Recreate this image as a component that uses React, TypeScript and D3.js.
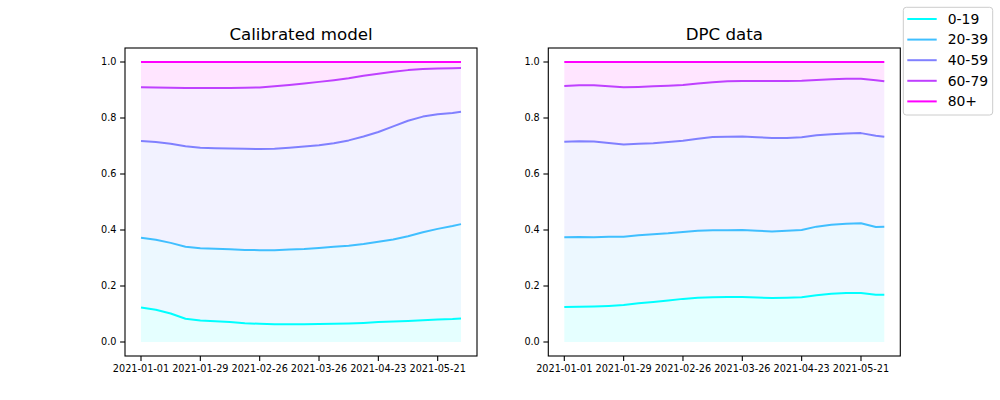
import React from "react";
import * as d3 from "d3";

const groups = ["0-19", "20-39", "40-59", "60-79", "80+"];
const colors = ["#00ffff", "#40bfff", "#8080ff", "#bf40ff", "#ff00ff"];
const sampleDays = [0, 7, 14, 21, 28, 35, 42, 49, 56, 63, 70, 77, 84, 91, 98, 105, 112, 119, 126, 133, 140, 147, 151];
const tickLabels = ["2021-01-01", "2021-01-29", "2021-02-26", "2021-03-26", "2021-04-23", "2021-05-21"];
const yTicks = [0, 0.2, 0.4, 0.6, 0.8, 1.0];

// cumulative shares, model
const model019 = [0.123, 0.115, 0.102, 0.083, 0.077, 0.074, 0.071, 0.067, 0.065, 0.063, 0.063, 0.063, 0.064, 0.065, 0.066, 0.068, 0.071, 0.073, 0.075, 0.078, 0.080, 0.082, 0.084];
const model2039 = [0.372, 0.365, 0.354, 0.340, 0.335, 0.333, 0.331, 0.329, 0.328, 0.328, 0.330, 0.332, 0.336, 0.340, 0.344, 0.350, 0.358, 0.366, 0.378, 0.392, 0.404, 0.414, 0.421];
const model4059 = [0.718, 0.714, 0.708, 0.699, 0.694, 0.692, 0.691, 0.690, 0.689, 0.690, 0.694, 0.698, 0.703, 0.710, 0.720, 0.734, 0.750, 0.770, 0.790, 0.805, 0.813, 0.818, 0.822];
const model6079 = [0.910, 0.909, 0.908, 0.907, 0.907, 0.907, 0.907, 0.908, 0.909, 0.913, 0.918, 0.923, 0.929, 0.935, 0.942, 0.951, 0.958, 0.965, 0.971, 0.975, 0.977, 0.978, 0.979];
const model80 = [1, 1, 1, 1, 1, 1, 1, 1, 1, 1, 1, 1, 1, 1, 1, 1, 1, 1, 1, 1, 1, 1, 1];

// cumulative shares, DPC data
const dpc019 = [0.125, 0.126, 0.127, 0.129, 0.132, 0.138, 0.143, 0.148, 0.154, 0.158, 0.160, 0.161, 0.161, 0.159, 0.157, 0.158, 0.160, 0.167, 0.172, 0.175, 0.175, 0.169, 0.169];
const dpc2039 = [0.374, 0.375, 0.374, 0.376, 0.376, 0.381, 0.385, 0.388, 0.393, 0.397, 0.399, 0.399, 0.400, 0.397, 0.395, 0.397, 0.400, 0.412, 0.419, 0.422, 0.424, 0.411, 0.412];
const dpc4059 = [0.715, 0.717, 0.716, 0.711, 0.705, 0.708, 0.710, 0.714, 0.719, 0.726, 0.732, 0.733, 0.734, 0.731, 0.729, 0.729, 0.731, 0.738, 0.742, 0.745, 0.746, 0.737, 0.733];
const dpc6079 = [0.914, 0.917, 0.917, 0.913, 0.910, 0.911, 0.913, 0.915, 0.918, 0.923, 0.928, 0.931, 0.932, 0.932, 0.932, 0.932, 0.933, 0.936, 0.938, 0.940, 0.940, 0.935, 0.931];
const dpc80 = [1, 1, 1, 1, 1, 1, 1, 1, 1, 1, 1, 1, 1, 1, 1, 1, 1, 1, 1, 1, 1, 1, 1];

const panels = [
  { title: "Calibrated model", series: [model019, model2039, model4059, model6079, model80], left: 125 },
  { title: "DPC data", series: [dpc019, dpc2039, dpc4059, dpc6079, dpc80], left: 548.3 },
];

const FONT = "DejaVu Sans, sans-serif";
const top = 48, bottom = 356, width = 352;
const tickFs = 9.7;

function Panel({ p }: { p: typeof panels[number] }) {
  const t0 = new Date(Date.UTC(2021, 0, 1));
  const dayMs = 86400000;
  const toDate = (d: number) => new Date(t0.getTime() + d * dayMs);
  const span = 151;
  const x = d3.scaleUtc().domain([toDate(-span * 0.05), toDate(span * 1.05)]).range([p.left, p.left + width]);
  const y = d3.scaleLinear().domain([-0.05, 1.05]).range([bottom, top]);
  const zero = sampleDays.map(() => 0);
  const lineGen = d3.line<number>().x((_, i) => x(toDate(sampleDays[i]))).y((v) => y(v));
  const areas = p.series.map((s, k) => {
    const lower = k === 0 ? zero : p.series[k - 1];
    const a = d3.area<number>()
      .x((_, i) => x(toDate(sampleDays[i])))
      .y0((_, i) => y(lower[i]))
      .y1((v) => y(v));
    return a(s) as string;
  });
  return (
    <g>
      {areas.map((d, k) => (
        <path key={"a" + k} d={d} fill={colors[k]} fillOpacity={0.1} stroke="none" />
      ))}
      {p.series.map((s, k) => (
        <path key={"l" + k} d={lineGen(s) as string} fill="none" stroke={colors[k]} strokeWidth={2} strokeLinejoin="round" />
      ))}
      <rect x={p.left} y={top} width={width} height={bottom - top} fill="none" stroke="#000" strokeWidth={1.1} />
      {tickLabels.map((lab, i) => {
        const xx = x(toDate(i * 28));
        return (
          <g key={"xt" + i}>
            <line x1={xx} x2={xx} y1={bottom} y2={bottom + 4.9} stroke="#000" strokeWidth={1.1} />
            <text x={xx} y={bottom + 8.5 + tickFs * 0.76} fontSize={tickFs} fontFamily={FONT} textAnchor="middle" fill="#000">{lab}</text>
          </g>
        );
      })}
      {yTicks.map((v) => {
        const yy = y(v);
        return (
          <g key={"yt" + v}>
            <line x1={p.left - 4.9} x2={p.left} y1={yy} y2={yy} stroke="#000" strokeWidth={1.1} />
            <text x={p.left - 8.5} y={yy + tickFs * 0.36} fontSize={tickFs} fontFamily={FONT} textAnchor="end" fill="#000">{v.toFixed(1)}</text>
          </g>
        );
      })}
      <text x={p.left + width / 2} y={top - 8.3} fontSize={16.67} fontFamily={FONT} textAnchor="middle" fill="#000">{p.title}</text>
    </g>
  );
}

export default function App() {
  const legendX = 903.3, legendY = 7.3;
  return (
    <div style={{ position: "fixed", left: 0, top: 0 }}>
      <svg width={1000} height={400} style={{ display: "block", background: "#fff" }}>
        {panels.map((p) => (
          <Panel key={p.title} p={p} />
        ))}
        <rect x={legendX} y={legendY} width={89.4} height={107.7} rx={3} fill="#fff" fillOpacity={0.8} stroke="#cccccc" strokeWidth={1} />
        {groups.map((g, i) => {
          const yy = 19 + i * 20.6;
          return (
            <g key={g}>
              <line x1={907.3} x2={936.7} y1={yy} y2={yy} stroke={colors[i]} strokeWidth={2} />
              <text x={947.7} y={yy + 4.8} fontSize={13.9} fontFamily={FONT} fill="#000">{g}</text>
            </g>
          );
        })}
      </svg>
    </div>
  );
}
